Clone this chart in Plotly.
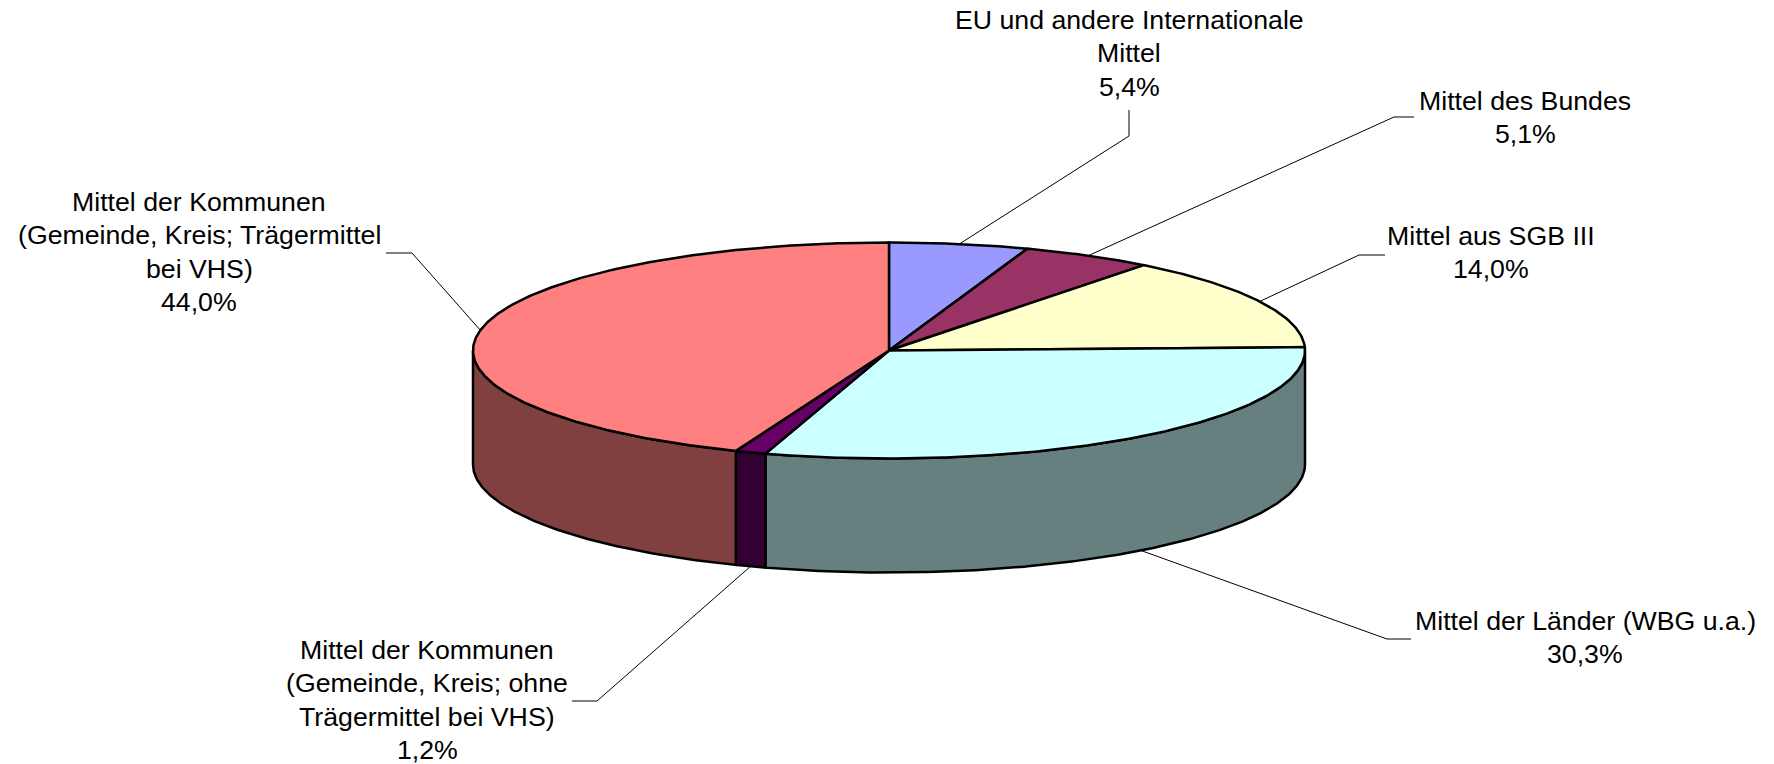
import numpy as np
import plotly.graph_objects as go

# Shares in percent, clockwise from 12 o'clock
shares = [5.4, 5.1, 14.0, 30.3, 1.2, 44.0]
label_lines = [
    ['EU und andere Internationale', 'Mittel'],
    ['Mittel des Bundes'],
    ['Mittel aus SGB III'],
    ['Mittel der Länder (WBG u.a.)'],
    ['Mittel der Kommunen', '(Gemeinde, Kreis; ohne', 'Trägermittel bei VHS)'],
    ['Mittel der Kommunen', '(Gemeinde, Kreis; Trägermittel', 'bei VHS)'],
]
top_colors = ['#9999FF', '#993366', '#FFFFCC', '#CCFFFF', '#660066', '#FF8080']
side_colors = ['#4C4C80', '#4C1933', '#808066', '#668080', '#330033', '#804040']

# Layout of the pie in pixels
CX, CY = 889, 350.5
RX, RY = 416, 108
DEPTH = 114
FONT = 'Liberation Sans'
FONT_SIZE = 26.7
LINE_H = 33.4

# Label centre (x, y of first line) and the leader's elbow and end
label_pos = [(1129, 20), (1525, 101), (1491, 236), (1585, 621), (427, 650), (199, 202)]
leader_elbow = [(1129, 136), (1394, 117), (1359, 255), (1387, 639), (597, 701), (412, 253)]
leader_end = [(1129, 110), (1414, 117), (1385, 255), (1411, 639), (572, 701), (386, 253)]


def rim(a0, a1, dy=0):
    """Points on the ellipse between two angles (degrees clockwise from top)"""
    t = np.radians(np.linspace(a0, a1, max(int(abs(a1 - a0) * 2), 2)))
    return CX + RX * np.sin(t), CY - RY * np.cos(t) + dy


fig = go.Figure()
bounds = np.cumsum([0] + shares) * 3.6

# Leader lines go first so the pie sits over their start
for i in range(len(shares)):
    mid = (bounds[i] + bounds[i + 1]) / 2
    front = 90 < mid < 270
    sx, sy = rim(mid, mid + 1, DEPTH if front else 0)
    fig.add_trace(go.Scatter(
        x=[sx[0], leader_elbow[i][0], leader_end[i][0]],
        y=[sy[0], leader_elbow[i][1], leader_end[i][1]],
        mode='lines', line=dict(color='black', width=1), hoverinfo='skip'))

# Outer wall, only the front half of the rim can be seen
for i in range(len(shares)):
    a0, a1 = max(bounds[i], 90), min(bounds[i + 1], 270)
    if a1 <= a0:
        continue
    tx, ty = rim(a0, a1)
    bx, by = rim(a1, a0, DEPTH)
    fig.add_trace(go.Scatter(
        x=np.r_[tx, bx, tx[0]], y=np.r_[ty, by, ty[0]],
        mode='lines', fill='toself', fillcolor=side_colors[i],
        line=dict(color='black', width=2.5), hoverinfo='skip'))

# Top face
for i in range(len(shares)):
    tx, ty = rim(bounds[i], bounds[i + 1])
    fig.add_trace(go.Scatter(
        x=np.r_[CX, tx, CX], y=np.r_[CY, ty, CY],
        mode='lines', fill='toself', fillcolor=top_colors[i],
        line=dict(color='black', width=2.5), hoverinfo='skip'))

# One annotation per text line, the spacing is wider than plotly's own
for i, lines in enumerate(label_lines):
    text = lines + [f'{shares[i]:.1f}%'.replace('.', ',')]
    for j, line in enumerate(text):
        fig.add_annotation(
            x=label_pos[i][0], y=label_pos[i][1] + j * LINE_H, text=line,
            showarrow=False, xanchor='center', yanchor='middle',
            font=dict(family=FONT, size=FONT_SIZE, color='black'))

fig.update_xaxes(range=[0, 1774], visible=False, fixedrange=True)
fig.update_yaxes(range=[764, 0], visible=False, fixedrange=True)
fig.update_layout(
    width=1774, height=764, margin=dict(l=0, r=0, t=0, b=0),
    showlegend=False, paper_bgcolor='white', plot_bgcolor='white')

fig.write_html('out.html', config={'displayModeBar': False},
               post_script="document.body.style.margin='0';")
